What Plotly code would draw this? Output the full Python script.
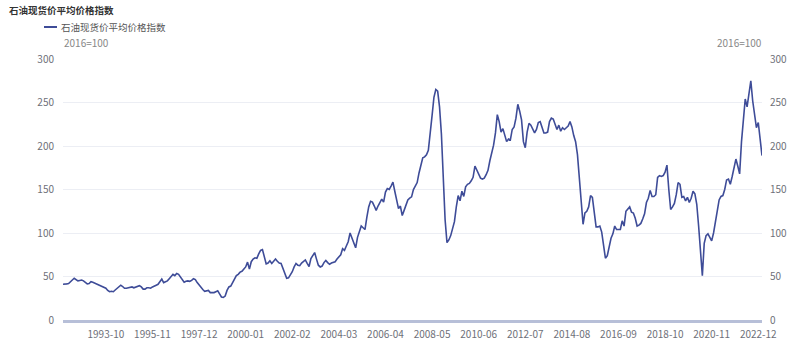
import pandas as pd
import plotly.graph_objects as go

# Monthly petroleum spot price average index (2016=100), 1991-11 .. 2023-02
months = pd.date_range("1991-11-01", "2023-02-01", freq="MS").strftime("%Y-%m").tolist()

values_1991_1999 = [
    41, 41, 41.5, 42, 43.5, 46, 48, 46.5, 45, 45.5,
    46, 45, 43.5, 41.5, 42, 44, 43.5, 42.5, 41.5, 40,
    39, 38, 37.5, 36.5, 34, 32.5, 33, 32.5, 34.5, 36,
    38.5, 40, 38.5, 36.5, 36.5, 37, 37.5, 38, 37, 38,
    38.5, 39.5, 38, 35.5, 35.5, 37, 37, 36.5, 38, 39.5,
    40, 41, 44, 47, 43, 44, 45, 47.5, 50, 52.6,
    51, 53.5, 52.5, 49.5, 46.5, 43.5, 44.5, 45, 44.5, 45.5,
    47.5, 46.5, 43, 40, 37, 35, 33, 33.5, 34, 31.5,
    31.5, 31.5, 32.5, 33.5, 30, 26.5, 26, 27.5, 34, 38,
    39, 43, 47, 51, 52.5, 55, 56, 58.5,
]
values_2000_2009 = [
    61, 66.5, 58.5, 67, 70, 71.5, 71, 76, 80, 81,
    72, 64.5, 65.5, 68, 65, 67, 70, 67.5, 65.5, 65,
    60, 54.5, 48, 48.5, 52, 55.5, 61, 65, 63, 62.5,
    65.5, 67, 69, 65, 61.5, 70.5, 75, 77.5, 70, 63,
    61, 62, 66, 68.5, 66, 64, 65.5, 66, 67, 70,
    73, 75, 82, 80, 85, 90, 100, 95, 88, 83,
    95, 103, 108, 106, 104, 118, 130, 136.5, 135.5, 131,
    126, 131, 136, 139, 135.5, 147, 151, 150, 154, 158.5,
    148, 137, 128, 131, 120, 126, 133, 138, 140, 141.5,
    150, 154, 158, 169, 180, 186.5, 187.5, 190, 195, 212,
    235, 256, 265, 263, 245, 214, 170, 115, 89, 92,
    97, 104, 113, 130, 143, 137, 148, 142, 153, 156,
]
values_2010_2019 = [
    157, 160, 164, 177, 172, 166, 163, 162, 163, 167,
    172, 183, 191, 201, 215, 236, 228, 216, 220, 212,
    205, 208, 207, 219, 222, 232, 248, 240, 230, 205,
    198, 216, 226, 224, 220, 215, 219, 227, 228, 222,
    215, 215, 216, 228, 232, 231, 226, 219, 224, 217,
    221, 219, 221, 223, 228, 222, 212, 205, 190, 165,
    143, 110, 123, 125, 130, 143, 141, 125, 107, 107,
    108, 101, 84, 71, 74, 86, 94, 99, 108, 104,
    104, 104, 114, 108, 125, 128, 130, 124, 123, 117,
    108, 109, 111, 116, 122, 135, 140, 149, 142, 142,
    144, 164, 166, 165, 166, 170, 178, 150, 127, 130,
    134, 144, 158, 156, 141, 142, 137, 141, 135, 140,
]
values_2020_2023 = [
    148, 145, 133, 108, 78, 51, 88, 97, 99, 94,
    91, 100, 114, 127, 138, 142, 143, 150, 161, 162,
    156, 165, 175, 185, 177, 168, 205, 232, 254, 245,
    258, 275, 252, 235, 221, 227, 210, 189,
]
index_values = values_1991_1999 + values_2000_2009 + values_2010_2019 + values_2020_2023

tick_labels = [
    "1993-10", "1995-11", "1997-12", "2000-01", "2002-02", "2004-03", "2006-04",
    "2008-05", "2010-06", "2012-07", "2014-08", "2016-09", "2018-10", "2020-11", "2022-12",
]
y_ticks = [0, 50, 100, 150, 200, 250, 300]

series_name = "石油现货价平均价格指数"
unit_label = "2016=100"

LINE = "#3e4c98"
GRID = "#eceef4"
AXIS = "#b7bfd8"
TICK = "#6e7079"
FONT = "Noto Sans CJK SC, Noto Sans, sans-serif"

W, H = 800, 344
L, R, T, B = 63, 38, 59, 24
pw, ph = W - L - R, H - T - B


def px(xp):
    return (xp - L) / pw


def py(yp):
    return (H - B - yp) / ph


fig = go.Figure()
fig.add_trace(go.Scatter(
    x=months, y=index_values, mode="lines", name=series_name,
    line=dict(color=LINE, width=1.6), showlegend=False,
))
# mirror trace so the right-hand value axis is drawn
fig.add_trace(go.Scatter(
    x=months, y=index_values, mode="lines", yaxis="y2",
    line=dict(color="rgba(0,0,0,0)", width=0), showlegend=False, hoverinfo="skip",
))

tickfont = dict(family=FONT, size=10, color=TICK)

fig.update_layout(
    width=W, height=H,
    margin=dict(l=L, r=R, t=T, b=B, autoexpand=False),
    paper_bgcolor="white", plot_bgcolor="white",
    font=dict(family=FONT),
    xaxis=dict(
        type="category", range=[0, len(months) - 1],
        tickmode="array", tickvals=tick_labels, ticktext=tick_labels,
        showgrid=False, zeroline=False, ticks="",
        showline=True, linecolor=AXIS, linewidth=3,
        tickfont=tickfont, tickangle=0, automargin=False,
        ticklabelstandoff=3,
    ),
    yaxis=dict(
        range=[0, 300], tickmode="array", tickvals=y_ticks,
        showgrid=True, gridcolor=GRID, gridwidth=1,
        zeroline=False, showline=False, ticks="",
        tickfont=tickfont, ticklabelstandoff=8, automargin=False,
    ),
    yaxis2=dict(
        range=[0, 300], tickmode="array", tickvals=y_ticks,
        overlaying="y", side="right",
        showgrid=False, zeroline=False, showline=False, ticks="",
        tickfont=tickfont, ticklabelstandoff=7, automargin=False,
    ),
    shapes=[dict(
        type="line", xref="paper", yref="paper",
        x0=px(44), x1=px(57), y0=py(27), y1=py(27),
        line=dict(color=LINE, width=2),
    )],
    annotations=[
        dict(text="<b>" + series_name + "</b>", xref="paper", yref="paper",
             x=px(7), y=py(10), xanchor="left", yanchor="middle", showarrow=False,
             font=dict(family=FONT, size=9.5, color="#333333")),
        dict(text=series_name, xref="paper", yref="paper",
             x=px(59), y=py(27), xanchor="left", yanchor="middle", showarrow=False,
             font=dict(family=FONT, size=9.5, color="#555555")),
        dict(text=unit_label, xref="paper", yref="paper",
             x=px(62), y=py(43), xanchor="left", yanchor="middle", showarrow=False,
             font=dict(family=FONT, size=10, color="#888888")),
        dict(text=unit_label, xref="paper", yref="paper",
             x=px(764), y=py(43), xanchor="right", yanchor="middle", showarrow=False,
             font=dict(family=FONT, size=10, color="#888888")),
    ],
)

fig.write_html("out.html")
